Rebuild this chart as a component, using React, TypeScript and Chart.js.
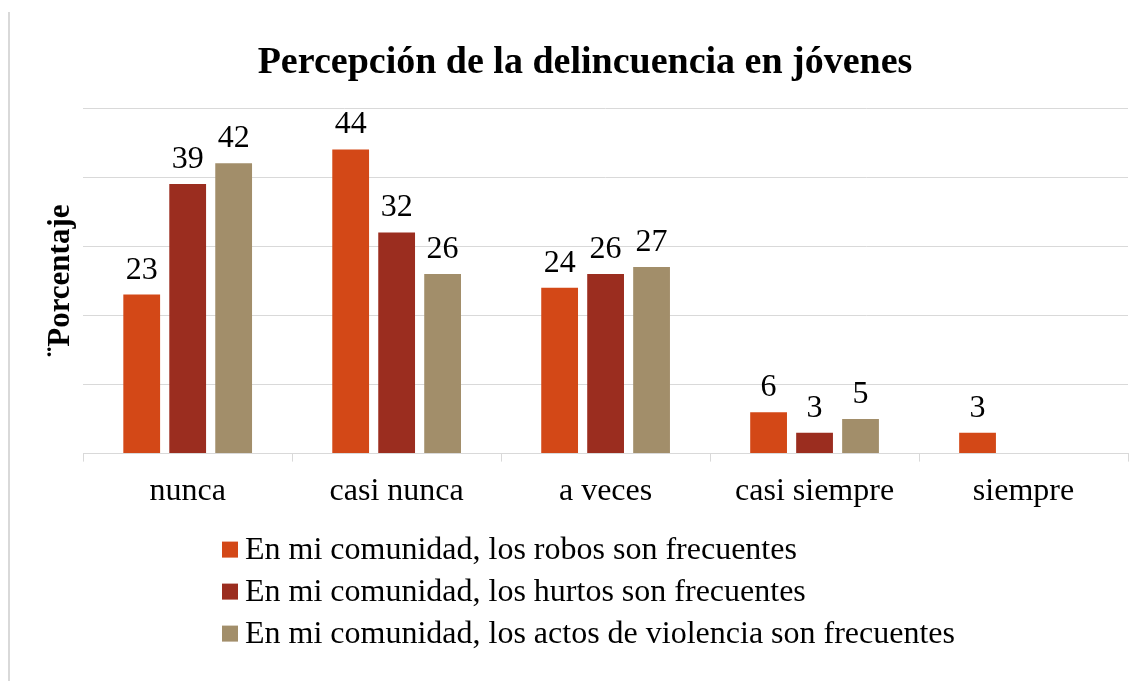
import React, { useEffect, useRef } from "react";
import { Chart, registerables } from "chart.js";

Chart.register(...registerables);

const categories = ["nunca", "casi nunca", "a veces", "casi siempre", "siempre"];
const robos = [23, 44, 24, 6, 3];
const hurtos = [39, 32, 26, 3, null];
const violencia = [42, 26, 27, 5, null];
const seriesLabels = [
  "En mi comunidad, los robos son frecuentes",
  "En mi comunidad, los hurtos son frecuentes",
  "En mi comunidad, los actos de violencia son frecuentes",
];
const colors = ["#D34817", "#9B2D1F", "#A28E6A"];
const yTicks = [0, 10, 20, 30, 40, 50];

const FONT = "'Liberation Serif', 'Times New Roman', serif";

const frameAndLabels = {
  id: "frameAndLabels",
  beforeDraw(chart: any) {
    const ctx = chart.ctx;
    ctx.save();
    ctx.fillStyle = "#d9d9d9";
    ctx.fillRect(8, 12, 2, chart.height - 12);
    ctx.restore();
  },
  afterDatasetsDraw(chart: any) {
    const ctx = chart.ctx;
    ctx.save();
    ctx.font = `32px ${FONT}`;
    ctx.fillStyle = "#000";
    ctx.textAlign = "center";
    ctx.textBaseline = "alphabetic";
    chart.data.datasets.forEach((ds: any, i: number) => {
      const meta = chart.getDatasetMeta(i);
      meta.data.forEach((el: any, j: number) => {
        const v = ds.data[j];
        if (v === null || v === undefined) return;
        ctx.fillText(String(v), el.x, el.y - 16);
      });
    });
    ctx.restore();
  },
  afterDraw(chart: any) {
    const ctx = chart.ctx;
    ctx.save();
    ctx.font = `32px ${FONT}`;
    ctx.textAlign = "left";
    ctx.textBaseline = "alphabetic";
    const baseY = chart.chartArea.bottom + 105;
    chart.data.datasets.forEach((ds: any, i: number) => {
      const y = baseY + i * 42;
      ctx.fillStyle = ds.backgroundColor;
      ctx.fillRect(222, y - 17, 16, 16);
      ctx.fillStyle = "#000";
      ctx.fillText(ds.label, 245, y);
    });
    ctx.restore();
  },
};

export default function App() {
  const ref = useRef<HTMLCanvasElement | null>(null);
  useEffect(() => {
    document.body.style.margin = "0";
    const canvas = ref.current;
    if (!canvas) return;
    const chart = new Chart(canvas, {
      type: "bar",
      data: {
        labels: categories,
        datasets: [
          { label: seriesLabels[0], data: robos, backgroundColor: colors[0] },
          { label: seriesLabels[1], data: hurtos, backgroundColor: colors[1] },
          { label: seriesLabels[2], data: violencia, backgroundColor: colors[2] },
        ],
      },
      options: {
        animation: false,
        responsive: false,
        maintainAspectRatio: false,
        devicePixelRatio: 1,
        layout: { padding: { left: 42, right: 14, top: 0, bottom: 159 } },
        datasets: { bar: { categoryPercentage: 0.66, barPercentage: 0.8 } },
        plugins: {
          legend: { display: false },
          tooltip: { enabled: false },
          title: {
            display: true,
            text: "Percepción de la delincuencia en jóvenes",
            color: "#000",
            font: { family: FONT, size: 38, weight: "bold" },
            padding: { top: 40, bottom: 22.4 },
          },
        },
        scales: {
          x: {
            grid: {
              offset: true,
              drawOnChartArea: false,
              drawTicks: true,
              tickLength: 8,
              color: "#d9d9d9",
            },
            border: { display: true, color: "#d9d9d9", width: 1 },
            ticks: {
              color: "#000",
              font: { family: FONT, size: 32 },
              padding: 11,
              maxRotation: 0,
              autoSkip: false,
            },
          },
          y: {
            min: yTicks[0],
            max: yTicks[yTicks.length - 1],
            afterBuildTicks: (scale: any) => {
              scale.ticks = yTicks.map((v) => ({ value: v }));
            },
            grid: { color: "#d9d9d9", lineWidth: 1, drawTicks: false },
            border: { display: false },
            ticks: { display: false },
            title: {
              display: true,
              text: "¨Porcentaje",
              color: "#000",
              font: { family: FONT, size: 31, weight: "bold" },
              padding: { top: 0, bottom: 4 },
            },
          },
        },
      },
      plugins: [frameAndLabels],
    });
    return () => chart.destroy();
  }, []);
  return (
    <div style={{ width: 1142, height: 681, background: "#fff" }}>
      <canvas ref={ref} width={1142} height={681} style={{ display: "block", width: 1142, height: 681 }} />
    </div>
  );
}
